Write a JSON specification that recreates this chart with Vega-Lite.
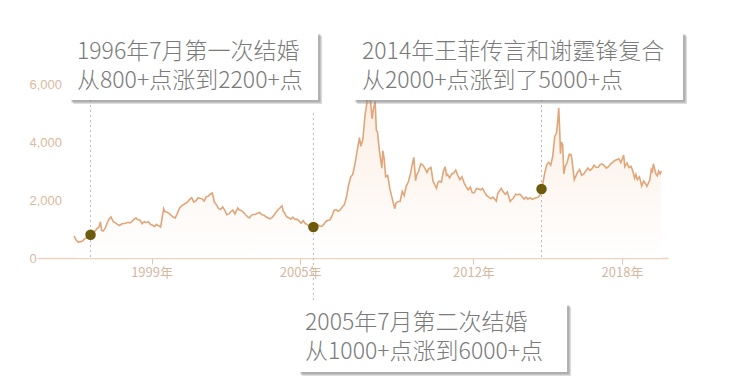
{
  "$schema": "https://vega.github.io/schema/vega-lite/v6.json",
  "width": 631,
  "height": 174,
  "autosize": {"type": "none"},
  "padding": {"left": 37, "top": 84, "right": 71, "bottom": 127},
  "background": "white",
  "config": {"view": {"stroke": null}},
  "datasets": {
    "sse": [
      {"d":"1995-11-15","v":760},{"d":"1995-12-15","v":620},{"d":"1996-01-15","v":550},{"d":"1996-02-15","v":565},{"d":"1996-03-15","v":580},{"d":"1996-04-15","v":660},{"d":"1996-05-15","v":690},{"d":"1996-06-15","v":850},{"d":"1996-07-15","v":800},{"d":"1996-08-15","v":880},{"d":"1996-09-15","v":920},{"d":"1996-10-15","v":1010},{"d":"1996-11-15","v":1060},{"d":"1996-12-08","v":1250},{"d":"1996-12-25","v":950},
      {"d":"1997-01-15","v":930},{"d":"1997-02-15","v":1020},{"d":"1997-03-15","v":1200},{"d":"1997-04-15","v":1350},{"d":"1997-05-12","v":1420},{"d":"1997-06-15","v":1250},{"d":"1997-07-15","v":1220},{"d":"1997-08-15","v":1160},{"d":"1997-09-15","v":1120},{"d":"1997-10-15","v":1170},{"d":"1997-11-15","v":1190},{"d":"1997-12-15","v":1200},
      {"d":"1998-01-15","v":1230},{"d":"1998-02-15","v":1210},{"d":"1998-03-15","v":1250},{"d":"1998-04-15","v":1330},{"d":"1998-05-15","v":1380},{"d":"1998-06-15","v":1320},{"d":"1998-07-15","v":1300},{"d":"1998-08-15","v":1180},{"d":"1998-09-15","v":1250},{"d":"1998-10-15","v":1220},{"d":"1998-11-15","v":1250},{"d":"1998-12-15","v":1160},
      {"d":"1999-01-15","v":1130},{"d":"1999-02-15","v":1090},{"d":"1999-03-15","v":1160},{"d":"1999-04-15","v":1110},{"d":"1999-05-15","v":1070},{"d":"1999-06-28","v":1700},{"d":"1999-07-15","v":1600},{"d":"1999-08-15","v":1580},{"d":"1999-09-15","v":1540},{"d":"1999-10-15","v":1480},{"d":"1999-11-15","v":1410},{"d":"1999-12-15","v":1380},
      {"d":"2000-01-15","v":1530},{"d":"2000-02-15","v":1710},{"d":"2000-03-15","v":1790},{"d":"2000-04-15","v":1840},{"d":"2000-05-15","v":1880},{"d":"2000-06-15","v":1930},{"d":"2000-07-15","v":2020},{"d":"2000-08-15","v":2080},{"d":"2000-09-15","v":1930},{"d":"2000-10-15","v":1970},{"d":"2000-11-15","v":2070},{"d":"2000-12-15","v":2060},
      {"d":"2001-01-15","v":2040},{"d":"2001-02-15","v":1960},{"d":"2001-03-15","v":2110},{"d":"2001-04-15","v":2130},{"d":"2001-05-15","v":2200},{"d":"2001-06-15","v":2240},{"d":"2001-07-15","v":1930},{"d":"2001-08-15","v":1840},{"d":"2001-09-15","v":1700},{"d":"2001-10-15","v":1680},{"d":"2001-11-15","v":1760},{"d":"2001-12-15","v":1650},
      {"d":"2002-01-15","v":1490},{"d":"2002-02-15","v":1520},{"d":"2002-03-15","v":1600},{"d":"2002-04-15","v":1650},{"d":"2002-05-15","v":1520},{"d":"2002-06-25","v":1720},{"d":"2002-07-15","v":1660},{"d":"2002-08-15","v":1640},{"d":"2002-09-15","v":1580},{"d":"2002-10-15","v":1500},{"d":"2002-11-15","v":1430},{"d":"2002-12-15","v":1380},
      {"d":"2003-01-15","v":1480},{"d":"2003-02-15","v":1500},{"d":"2003-03-15","v":1510},{"d":"2003-04-15","v":1540},{"d":"2003-05-15","v":1570},{"d":"2003-06-15","v":1490},{"d":"2003-07-15","v":1480},{"d":"2003-08-15","v":1420},{"d":"2003-09-15","v":1380},{"d":"2003-10-15","v":1350},{"d":"2003-11-15","v":1400},{"d":"2003-12-15","v":1490},
      {"d":"2004-01-15","v":1590},{"d":"2004-02-15","v":1680},{"d":"2004-03-15","v":1740},{"d":"2004-04-08","v":1800},{"d":"2004-04-28","v":1600},{"d":"2004-05-15","v":1560},{"d":"2004-06-15","v":1420},{"d":"2004-07-15","v":1390},{"d":"2004-08-15","v":1340},{"d":"2004-09-15","v":1410},{"d":"2004-10-15","v":1330},{"d":"2004-11-15","v":1340},{"d":"2004-12-15","v":1280},
      {"d":"2005-01-15","v":1200},{"d":"2005-02-15","v":1290},{"d":"2005-03-15","v":1190},{"d":"2005-04-15","v":1160},{"d":"2005-05-15","v":1090},{"d":"2005-06-15","v":1060},{"d":"2005-07-15","v":1070},{"d":"2005-08-15","v":1150},{"d":"2005-09-15","v":1150},{"d":"2005-10-15","v":1100},{"d":"2005-11-15","v":1090},{"d":"2005-12-15","v":1160},
      {"d":"2006-01-15","v":1260},{"d":"2006-02-15","v":1300},{"d":"2006-03-15","v":1310},{"d":"2006-04-15","v":1440},{"d":"2006-05-15","v":1640},{"d":"2006-06-15","v":1670},{"d":"2006-07-15","v":1610},{"d":"2006-08-15","v":1660},{"d":"2006-09-15","v":1760},{"d":"2006-10-15","v":1840},{"d":"2006-11-15","v":2100},{"d":"2006-12-15","v":2500},
      {"d":"2007-01-15","v":2790},{"d":"2007-02-15","v":2880},{"d":"2007-03-15","v":3180},{"d":"2007-04-15","v":3600},{"d":"2007-05-25","v":4150},{"d":"2007-06-15","v":3850},{"d":"2007-07-15","v":4100},{"d":"2007-08-15","v":4900},{"d":"2007-09-15","v":5400},{"d":"2007-10-16","v":6124},{"d":"2007-11-05","v":5400},{"d":"2007-11-28","v":4800},{"d":"2007-12-15","v":5100},
      {"d":"2008-01-12","v":5400},{"d":"2008-01-30","v":4400},{"d":"2008-02-15","v":4350},{"d":"2008-03-15","v":3700},{"d":"2008-04-20","v":3100},{"d":"2008-05-05","v":3700},{"d":"2008-05-25","v":3400},{"d":"2008-06-15","v":2800},{"d":"2008-07-15","v":2850},{"d":"2008-08-15","v":2400},{"d":"2008-09-15","v":2100},{"d":"2008-10-28","v":1700},{"d":"2008-11-15","v":1900},{"d":"2008-12-15","v":1950},
      {"d":"2009-01-15","v":1950},{"d":"2009-02-15","v":2300},{"d":"2009-03-15","v":2150},{"d":"2009-04-15","v":2480},{"d":"2009-05-15","v":2620},{"d":"2009-06-15","v":2900},{"d":"2009-07-15","v":3250},{"d":"2009-08-04","v":3470},{"d":"2009-08-31","v":2670},{"d":"2009-09-15","v":2850},{"d":"2009-10-15","v":2990},{"d":"2009-11-15","v":3250},{"d":"2009-12-15","v":3200},
      {"d":"2010-01-15","v":3100},{"d":"2010-02-15","v":2950},{"d":"2010-03-15","v":3080},{"d":"2010-04-15","v":3120},{"d":"2010-05-15","v":2650},{"d":"2010-06-15","v":2500},{"d":"2010-07-05","v":2400},{"d":"2010-07-25","v":2600},{"d":"2010-08-15","v":2650},{"d":"2010-09-15","v":2620},{"d":"2010-10-15","v":2980},{"d":"2010-11-10","v":3150},{"d":"2010-11-30","v":2850},{"d":"2010-12-15","v":2880},
      {"d":"2011-01-15","v":2760},{"d":"2011-02-15","v":2900},{"d":"2011-03-15","v":2930},{"d":"2011-04-15","v":3030},{"d":"2011-05-15","v":2850},{"d":"2011-06-15","v":2700},{"d":"2011-07-15","v":2800},{"d":"2011-08-15","v":2600},{"d":"2011-09-15","v":2450},{"d":"2011-10-15","v":2350},{"d":"2011-11-15","v":2450},{"d":"2011-12-15","v":2250},
      {"d":"2012-01-15","v":2250},{"d":"2012-02-15","v":2400},{"d":"2012-03-15","v":2380},{"d":"2012-04-15","v":2350},{"d":"2012-05-15","v":2400},{"d":"2012-06-15","v":2260},{"d":"2012-07-15","v":2150},{"d":"2012-08-15","v":2100},{"d":"2012-09-15","v":2050},{"d":"2012-10-15","v":2100},{"d":"2012-11-15","v":2020},{"d":"2012-12-04","v":1960},{"d":"2012-12-25","v":2220},
      {"d":"2013-01-15","v":2300},{"d":"2013-02-15","v":2400},{"d":"2013-03-15","v":2280},{"d":"2013-04-15","v":2200},{"d":"2013-05-15","v":2280},{"d":"2013-06-25","v":1950},{"d":"2013-07-15","v":2000},{"d":"2013-08-15","v":2080},{"d":"2013-09-15","v":2200},{"d":"2013-10-15","v":2180},{"d":"2013-11-15","v":2200},{"d":"2013-12-15","v":2130},
      {"d":"2014-01-15","v":2030},{"d":"2014-02-15","v":2100},{"d":"2014-03-15","v":2030},{"d":"2014-04-15","v":2080},{"d":"2014-05-15","v":2020},{"d":"2014-06-15","v":2050},{"d":"2014-07-15","v":2080},{"d":"2014-08-15","v":2100},{"d":"2014-09-15","v":2200},{"d":"2014-10-01","v":2380},{"d":"2014-10-20","v":2560},{"d":"2014-11-15","v":2900},{"d":"2014-12-15","v":3200},
      {"d":"2015-01-15","v":3300},{"d":"2015-02-15","v":3200},{"d":"2015-03-15","v":3500},{"d":"2015-04-15","v":4200},{"d":"2015-05-10","v":4300},{"d":"2015-05-28","v":4700},{"d":"2015-06-12","v":5178},{"d":"2015-06-25","v":4500},{"d":"2015-07-08","v":3600},{"d":"2015-07-22","v":4000},{"d":"2015-08-10","v":3900},{"d":"2015-08-26","v":2900},{"d":"2015-09-15","v":3150},{"d":"2015-10-15","v":3300},{"d":"2015-11-15","v":3580},{"d":"2015-12-15","v":3550},
      {"d":"2016-01-28","v":2700},{"d":"2016-02-15","v":2800},{"d":"2016-03-15","v":2950},{"d":"2016-04-15","v":3050},{"d":"2016-05-15","v":2850},{"d":"2016-06-15","v":2900},{"d":"2016-07-15","v":3000},{"d":"2016-08-15","v":3100},{"d":"2016-09-15","v":3020},{"d":"2016-10-15","v":3080},{"d":"2016-11-15","v":3200},{"d":"2016-12-15","v":3120},
      {"d":"2017-01-15","v":3130},{"d":"2017-02-15","v":3230},{"d":"2017-03-15","v":3240},{"d":"2017-04-15","v":3190},{"d":"2017-05-15","v":3100},{"d":"2017-06-15","v":3150},{"d":"2017-07-15","v":3240},{"d":"2017-08-15","v":3300},{"d":"2017-09-15","v":3360},{"d":"2017-10-15","v":3390},{"d":"2017-11-15","v":3420},{"d":"2017-12-15","v":3290},
      {"d":"2018-01-25","v":3550},{"d":"2018-02-10","v":3150},{"d":"2018-03-15","v":3280},{"d":"2018-04-15","v":3120},{"d":"2018-05-15","v":3160},{"d":"2018-06-15","v":2950},{"d":"2018-07-05","v":2750},{"d":"2018-07-25","v":2880},{"d":"2018-08-15","v":2700},{"d":"2018-09-15","v":2800},{"d":"2018-10-18","v":2480},{"d":"2018-11-15","v":2650},{"d":"2018-12-15","v":2560},
      {"d":"2019-01-03","v":2470},{"d":"2019-01-25","v":2580},{"d":"2019-02-15","v":2700},{"d":"2019-03-08","v":3050},{"d":"2019-03-25","v":2980},{"d":"2019-04-08","v":3250},{"d":"2019-05-15","v":2900},{"d":"2019-06-05","v":2830},{"d":"2019-06-25","v":3000},{"d":"2019-07-15","v":2900},{"d":"2019-08-05","v":3000}
    ],
    "events": [
      {"d":"1996-07-15","v":800,"top":5448,"bottom":0},
      {"d":"2005-07-15","v":1070,"top":5000,"bottom":-1552},
      {"d":"2014-10-01","v":2380,"top":5448,"bottom":0}
    ],
    "boxes": [
      {"x1":"1995-09-02","x2":"2005-09-22","y1":7793,"y2":5448},
      {"x1":"2007-02-20","x2":"2020-06-19","y1":7793,"y2":5448},
      {"x1":"2004-12-01","x2":"2015-10-13","y1":-1552,"y2":-3931}
    ],
    "notes": [
      {"d":"1995-12-28","v":6862,"t":"1996年7月第一次结婚\n从800+点涨到2200+点"},
      {"d":"2007-07-02","v":6862,"t":"2014年王菲传言和谢霆锋复合\n从2000+点涨到了5000+点"},
      {"d":"2005-03-14","v":-2483,"t":"2005年7月第二次结婚\n从1000+点涨到6000+点"}
    ]
  },
  "layer": [
    {
      "data": {"name": "sse"},
      "mark": {"type": "area", "clip": false, "color": {"gradient": "linear", "x1": 0, "y1": 1, "x2": 0, "y2": 0, "stops": [{"offset": 0, "color": "#ffffff"}, {"offset": 1, "color": "#fbece0"}]}},
      "encoding": {
        "x": {"field": "d", "type": "temporal", "scale": {"domain": ["1994-05-17", "2019-11-10"]},
          "axis": {"values": ["1999-01-01", "2005-01-01", "2012-01-01", "2018-01-01"], "format": "%Y年", "title": null, "grid": false,
            "domainColor": "#ecd3c0", "domainWidth": 1.5, "tickColor": "#e3c6ae", "tickSize": 6, "labelPadding": 2,
            "labelColor": "#d6b8a0", "labelFont": "Noto Sans CJK SC", "labelFontSize": 13}},
        "y": {"field": "v", "type": "quantitative", "scale": {"domain": [0, 6000], "nice": false},
          "axis": {"values": [0, 2000, 4000, 6000], "format": ",.0f", "title": null, "grid": false, "domain": false, "ticks": false, "tickSize": 0,
            "labelAlign": "left", "labelPadding": 8, "labelColor": "#dbb99e", "labelFont": "Liberation Sans", "labelFontSize": 13}}
      }
    },
    {
      "data": {"name": "sse"},
      "mark": {"type": "line", "clip": false, "color": "#e0a679", "strokeWidth": 1.6},
      "encoding": {"x": {"field": "d", "type": "temporal"}, "y": {"field": "v", "type": "quantitative"}}
    },
    {
      "data": {"name": "events"},
      "mark": {"type": "rule", "clip": false, "color": "#b9b9b9", "strokeDash": [2, 3], "strokeWidth": 1},
      "encoding": {"x": {"field": "d", "type": "temporal"}, "y": {"field": "top", "type": "quantitative"}, "y2": {"field": "bottom"}}
    },
    {
      "data": {"name": "events"},
      "mark": {"type": "circle", "clip": false, "color": "#6e5a0c", "opacity": 1, "size": 110},
      "encoding": {"x": {"field": "d", "type": "temporal"}, "y": {"field": "v", "type": "quantitative"}}
    },
    {
      "data": {"name": "boxes"},
      "mark": {"type": "rect", "clip": false, "color": "#8a8a8a", "opacity": 0.3, "xOffset": 4, "x2Offset": 4, "yOffset": 4, "y2Offset": 4},
      "encoding": {"x": {"field": "x1", "type": "temporal"}, "x2": {"field": "x2"}, "y": {"field": "y1", "type": "quantitative"}, "y2": {"field": "y2"}}
    },
    {
      "data": {"name": "boxes"},
      "mark": {"type": "rect", "clip": false, "color": "#8a8a8a", "opacity": 0.55, "xOffset": 2.5, "x2Offset": 2.5, "yOffset": 2.5, "y2Offset": 2.5},
      "encoding": {"x": {"field": "x1", "type": "temporal"}, "x2": {"field": "x2"}, "y": {"field": "y1", "type": "quantitative"}, "y2": {"field": "y2"}}
    },
    {
      "data": {"name": "boxes"},
      "mark": {"type": "rect", "clip": false, "color": "#ffffff", "opacity": 1},
      "encoding": {"x": {"field": "x1", "type": "temporal"}, "x2": {"field": "x2"}, "y": {"field": "y1", "type": "quantitative"}, "y2": {"field": "y2"}}
    },
    {
      "data": {"name": "notes"},
      "mark": {"type": "text", "clip": false, "align": "left", "baseline": "alphabetic", "lineBreak": "\n", "lineHeight": 29, "font": "Noto Sans CJK SC", "fontWeight": 300, "fontSize": 23, "color": "#7a7a7a"},
      "encoding": {"x": {"field": "d", "type": "temporal"}, "y": {"field": "v", "type": "quantitative"}, "text": {"field": "t"}}
    }
  ]
}
